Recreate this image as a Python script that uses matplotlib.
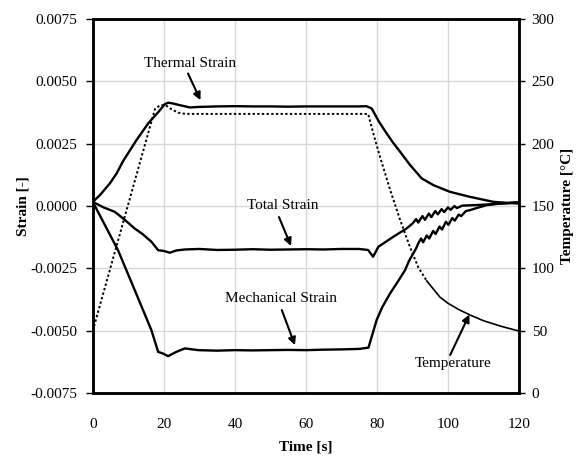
import matplotlib.pyplot as plt
import numpy as np
from matplotlib.ticker import FuncFormatter, MultipleLocator

plt.rcParams['font.family'] = ['Liberation Serif', 'DejaVu Serif']

# Thermal strain
t_th = [0, 2, 4.8, 6.7, 8.5, 12.3, 15.6, 18.9, 20.2, 21.2, 22.5, 24.5, 27.3, 30, 35, 40, 45, 50, 55,
        60, 65, 70, 75, 77.0, 78.5, 80.5, 82.7, 84.5, 86.5, 89.3, 92.6, 95.9, 100.6, 106.2, 112.8, 120]
thermal = [0.00017, 0.00044, 0.00091, 0.00131, 0.00180, 0.00265, 0.00332, 0.00385, 0.00408, 0.00415,
           0.00412, 0.00405, 0.00396, 0.00398, 0.00400, 0.00401, 0.00400, 0.00400, 0.00399, 0.00400,
           0.00400, 0.00400, 0.00400, 0.00401, 0.00392, 0.00340, 0.00292, 0.00255, 0.00218, 0.00165,
           0.00111, 0.00084, 0.00057, 0.00037, 0.00017, 0.00010]

# Total strain
t_tot = [0, 3, 6.2, 9, 11.8, 14, 16.5, 18.4, 20, 21.7, 23.5, 25.9, 30, 35, 40, 45, 50, 55, 60, 65,
         70, 75, 77.5, 78.9, 80.4, 82.5, 84.6, 86.5, 88.3, 90.0, 91.0, 91.6, 92.8, 93.5, 94.6, 95.3,
         96.4, 97.1, 98.2, 98.9, 100.0, 100.7, 101.8, 102.5, 104.0, 106, 109, 113, 117, 120]
total = [0.00017, -0.00005, -0.00023, -0.00055, -0.00090, -0.00112, -0.00143, -0.00177, -0.00180,
         -0.00187, -0.00178, -0.00174, -0.00172, -0.00176, -0.00175, -0.00173, -0.00175, -0.00174,
         -0.00173, -0.00174, -0.00172, -0.00172, -0.00176, -0.00203, -0.00163, -0.00143, -0.00123,
         -0.00106, -0.00090, -0.00070, -0.00052, -0.00066, -0.00040, -0.00055, -0.00030, -0.00044,
         -0.00020, -0.00033, -0.00012, -0.00024, -0.00005, -0.00015, 0.00000, -0.00008, 0.00002,
         0.00003, 0.00005, 0.00008, 0.00012, 0.00016]

# Mechanical strain
t_mech = [0, 3, 7.1, 11.8, 16.5, 18.4, 19.5, 21.2, 23.5, 25.9, 29.7, 35, 40, 45, 50, 55, 60, 65, 70,
          75, 77.6, 79.9, 81.5, 83.7, 86, 87.9, 89, 90.2, 91.0, 91.6, 92.4, 93.0, 94.0, 94.7, 95.8,
          96.5, 97.6, 98.3, 99.4, 100.1, 101.2, 101.9, 103.0, 103.7, 105, 106.2, 108, 110.9, 114,
          117, 120]
mechanical = [0.00017, -0.00065, -0.00177, -0.00337, -0.00498, -0.00585, -0.00590, -0.00602,
              -0.00585, -0.00571, -0.00578, -0.00580, -0.00578, -0.00579, -0.00578, -0.00577,
              -0.00578, -0.00576, -0.00575, -0.00573, -0.00568, -0.00457, -0.00405, -0.00350,
              -0.00300, -0.00257, -0.00220, -0.00190, -0.00170, -0.00150, -0.00130, -0.00145,
              -0.00118, -0.00130, -0.00100, -0.00112, -0.00082, -0.00094, -0.00063, -0.00075,
              -0.00048, -0.00058, -0.00034, -0.00040, -0.00020, -0.00016, -0.00008, 0.00004,
              0.00010, 0.00012, 0.00016]

# Temperature [°C]
t_temp = [0, 17.5, 19, 20.5, 22, 24, 26, 30, 40, 50, 60, 70, 77.5, 79, 80.8, 83.7, 86.5, 89.3,
          91.6, 94, 97.7, 100, 103, 106.2, 110, 115, 120]
temperature = [50, 228, 231, 231, 228, 225, 224, 224, 224, 224, 224, 224, 224, 208, 190, 163, 139,
               117, 101, 90, 77, 72, 67, 62.6, 58, 53.5, 49.7]

fig = plt.figure(figsize=(5.8, 4.57), dpi=100)
ax = fig.add_axes([0.160, 0.140, 0.735, 0.818])
ax2 = ax.twinx()

# grid
ax.set_axisbelow(True)
ax.grid(True, color='#d8d8d8', linewidth=1.0)

lw = 1.7
ax.plot(t_th, thermal, color='black', linewidth=lw, zorder=3)
ax.plot(t_tot, total, color='black', linewidth=lw, zorder=3)
ax.plot(t_mech, mechanical, color='black', linewidth=lw, zorder=3)

tt = np.array(t_temp)
tv = np.array(temperature)
early = tt <= 94
late = tt >= 94
ax2.plot(tt[early], tv[early], color='black', linewidth=1.4, linestyle=(0, (1.2, 1.2)))
ax2.plot(tt[late], tv[late], color='black', linewidth=1.2)

ax.set_xlim(0, 120)
ax.set_ylim(-0.0075, 0.0075)
ax2.set_ylim(0, 300)
ax.xaxis.set_major_locator(MultipleLocator(20))
ax.yaxis.set_major_locator(MultipleLocator(0.0025))
ax2.yaxis.set_major_locator(MultipleLocator(50))
ax.yaxis.set_major_formatter(FuncFormatter(lambda v, p: f'{v:.4f}'))

ax.tick_params(axis='y', direction='out', length=5, width=1, labelsize=11, pad=6)
ax.tick_params(axis='x', length=0, labelsize=11, pad=18)
ax2.tick_params(axis='y', direction='out', length=4, width=1, labelsize=11, pad=5)

for a in (ax, ax2):
    for s in a.spines.values():
        s.set_linewidth(1.8)

ax.set_xlabel('Time [s]', fontsize=11, fontweight='bold', labelpad=7)
ax.set_ylabel('Strain [-]', fontsize=11, fontweight='bold', labelpad=1)
ax2.set_ylabel('Temperature [°C]', fontsize=11, fontweight='bold', labelpad=5)

# annotations
arrow = dict(arrowstyle='-|>', color='black', lw=1.5, mutation_scale=11, shrinkA=0, shrinkB=0)
ax.text(27.3, 0.00573, 'Thermal Strain', ha='center', va='center', fontsize=11)
ax.annotate('', xy=(30.3, 0.00425), xytext=(26.8, 0.00532), arrowprops=arrow)
ax.text(53.5, 0.00004, 'Total Strain', ha='center', va='center', fontsize=11)
ax.annotate('', xy=(55.8, -0.0016), xytext=(52.4, -0.00044), arrowprops=arrow)
ax.text(53, -0.00369, 'Mechanical Strain', ha='center', va='center', fontsize=11)
ax.annotate('', xy=(56.9, -0.00558), xytext=(53.2, -0.00417), arrowprops=arrow)
ax2.text(101.5, 23.8, 'Temperature', ha='center', va='center', fontsize=11)
ax2.annotate('', xy=(106, 63), xytext=(100.6, 30.5), arrowprops=arrow)

fig.savefig('out.png', dpi=100)
